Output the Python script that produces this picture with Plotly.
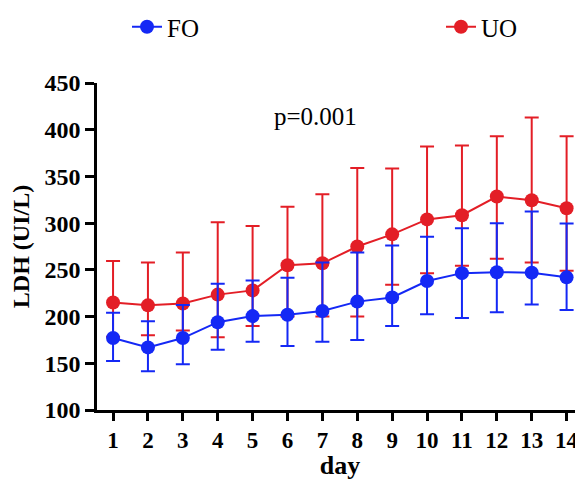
import plotly.graph_objects as go

days = list(range(1, 15))
day_labels = [f"<b>{d}</b>" for d in days]
y_ticks = [100, 150, 200, 250, 300, 350, 400, 450]
y_labels = [f"<b>{v}</b>" for v in y_ticks]
fo_mean = [177, 167, 177, 194, 200.5, 202, 206, 216, 220.5, 238, 246.5, 247.5, 247, 242]
fo_upper = [204, 195, 212.5, 235, 238.5, 241.5, 258, 268.5, 276, 285.5, 294.5, 300, 312.5, 299.5]
fo_lower = [152.5, 141.5, 149, 164.5, 173, 168.5, 173, 175, 190, 202.5, 198.5, 204.5, 213, 207]
uo_mean = [215, 212, 214, 223.5, 228, 255, 257, 275, 288, 304, 308.5, 328.5, 324.5, 316]
uo_upper = [259.5, 258, 268.5, 301, 297, 317.5, 331, 359, 358.5, 382, 383, 393, 413, 393]
uo_lower = [178.5, 180, 185, 178, 190, 200, 200, 200, 234, 246.5, 254.5, 262, 258, 249]

BLUE = "#1428f5"
RED = "#e31e26"
SERIF = "Liberation Serif"

# The page body adds an 8px offset, so the figure is sized to fill the window from there.
W, H = 575, 472

def trace(name, mean, up, lo, color, legend):
    return go.Scatter(
        x=days, y=mean, name=name, mode="lines+markers", legend=legend,
        line=dict(color=color, width=2),
        marker=dict(color=color, size=14, symbol="circle"),
        error_y=dict(type="data", symmetric=False,
                     array=[u - m for u, m in zip(up, mean)],
                     arrayminus=[m - l for m, l in zip(mean, lo)],
                     color=color, thickness=2, width=7),
    )

fig = go.Figure()
fig.add_trace(trace("UO", uo_mean, uo_upper, uo_lower, RED, "legend2"))
fig.add_trace(trace("FO", fo_mean, fo_upper, fo_lower, BLUE, "legend"))

leg = dict(orientation="h", xref="container", yref="container",
           xanchor="left", yanchor="middle",
           font=dict(family=SERIF, size=25), bgcolor="rgba(0,0,0,0)")

fig.update_layout(
    width=W, height=H,
    margin=dict(l=89, r=0, t=75, b=70, pad=0),
    plot_bgcolor="white", paper_bgcolor="white",
    font=dict(family=SERIF, color="black"),
    showlegend=True,
    legend=dict(leg, x=119 / W, y=1 - 19 / H),
    legend2=dict(leg, x=433 / W, y=1 - 19 / H),
    xaxis=dict(range=[0.54, 14.47], tickvals=days, ticktext=day_labels,
               automargin=False,
               showline=True, linecolor="black", linewidth=2.5,
               ticks="outside", ticklen=8, tickwidth=2.5, tickcolor="black",
               showgrid=False, zeroline=False,
               tickfont=dict(family=SERIF, size=23),
               title=dict(text="<b>day</b>", font=dict(family=SERIF, size=26), standoff=0)),
    yaxis=dict(range=[100, 450], tickvals=y_ticks, ticktext=y_labels,
               automargin=False,
               showline=True, linecolor="black", linewidth=2.5,
               ticks="outside", ticklen=9, tickwidth=2.5, tickcolor="black",
               showgrid=False, zeroline=False,
               tickfont=dict(family=SERIF, size=24),
               title=dict(text="<b>LDH (UI/L)</b>", font=dict(family=SERIF, size=24), standoff=9)),
    annotations=[dict(x=6.79, y=414, xref="x", yref="y", text="p=0.001",
                      showarrow=False, font=dict(family=SERIF, size=25))],
)

fig.write_html("out.html")
